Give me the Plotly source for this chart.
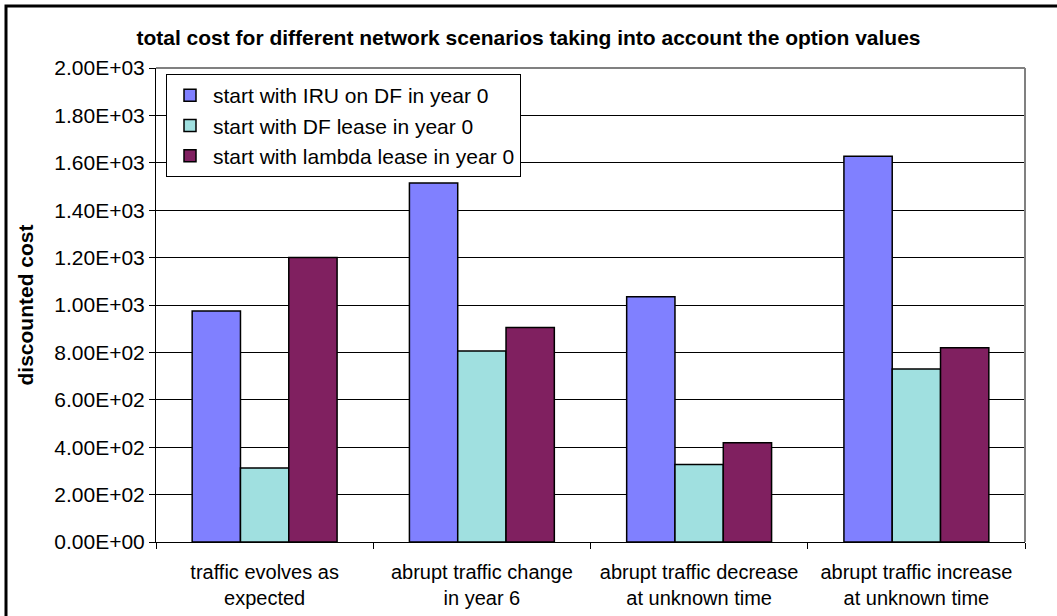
import plotly.graph_objects as go

categories = ["traffic evolves as<br>expected",
              "abrupt traffic change<br>in year 6",
              "abrupt traffic decrease<br>at unknown time",
              "abrupt traffic increase<br>at unknown time"]
series_names = ["start with IRU on DF in year 0",
                "start with DF lease in year 0",
                "start with lambda lease in year 0"]
iru_df = [975, 1515, 1035, 1628]
df_lease = [312, 806, 327, 730]
lambda_lease = [1200, 905, 419, 820]
tick_vals = [0, 200, 400, 600, 800, 1000, 1200, 1400, 1600, 1800, 2000]
tick_text = ["0.00E+00", "2.00E+02", "4.00E+02", "6.00E+02", "8.00E+02",
             "1.00E+03", "1.20E+03", "1.40E+03", "1.60E+03", "1.80E+03", "2.00E+03"]

colors = ["#8080FF", "#A0E0E0", "#802060"]
FONT = "Liberation Sans, Arial, sans-serif"

W, H = 1057, 616
L, R, T, B = 156, 32, 68, 74
PW, PH = W - L - R, H - T - B

def px_x(p):
    return (p - L) / PW

def px_y(p):
    return (H - B - p) / PH

fig = go.Figure()
for name, vals, col in zip(series_names, [iru_df, df_lease, lambda_lease], colors):
    fig.add_trace(go.Bar(x=categories, y=vals, name=name,
                         marker=dict(color=col, line=dict(color="#000000", width=1.5))))

fig.update_layout(
    width=W, height=H,
    margin=dict(l=L, r=R, t=T, b=B, autoexpand=False),
    paper_bgcolor="white", plot_bgcolor="white",
    font=dict(family=FONT, color="#000000", size=20),
    barmode="group", bargap=0.333, bargroupgap=0,
    title=dict(text="<b>total cost for different network scenarios taking into account the option values</b>",
               x=0.5, xanchor="center", y=1 - 38 / H, yanchor="middle",
               font=dict(family=FONT, size=21, color="#000000")),
    legend=dict(x=px_x(166), y=px_y(74), xanchor="left", yanchor="top",
                bgcolor="white", bordercolor="#000000", borderwidth=1,
                font=dict(family=FONT, size=21, color="#000000"),
                itemwidth=36, tracegroupgap=0),
    showlegend=True,
)
fig.update_xaxes(showline=True, linecolor="#000000", linewidth=1, automargin=False,
                 ticks="outside", ticklen=6, tickcolor="#000000", tickson="boundaries",
                 showgrid=False, tickfont=dict(size=20), ticklabelstandoff=12)
fig.update_yaxes(range=[0, 2000], tickvals=tick_vals, ticktext=tick_text, automargin=False,
                 showline=True, linecolor="#000000", linewidth=1,
                 ticks="outside", ticklen=6, tickcolor="#000000",
                 showgrid=True, gridcolor="#000000", gridwidth=1, zeroline=False,
                 tickfont=dict(size=21),
                 title=dict(text="<b>discounted cost</b>", font=dict(size=21), standoff=14))

# gray top/right plot border
fig.add_shape(type="line", xref="paper", yref="paper", x0=0, x1=1, y0=1, y1=1,
              line=dict(color="#808080", width=2))
fig.add_shape(type="line", xref="paper", yref="paper", x0=1, x1=1, y0=0, y1=1,
              line=dict(color="#808080", width=2))
# outer chart border (extends beyond the visible area at right/bottom)
fig.add_shape(type="rect", xref="paper", yref="paper",
              x0=px_x(6), x1=px_x(W + 10), y0=px_y(H + 10), y1=px_y(6),
              line=dict(color="#000000", width=3), layer="below")

fig.write_html("out.html")
